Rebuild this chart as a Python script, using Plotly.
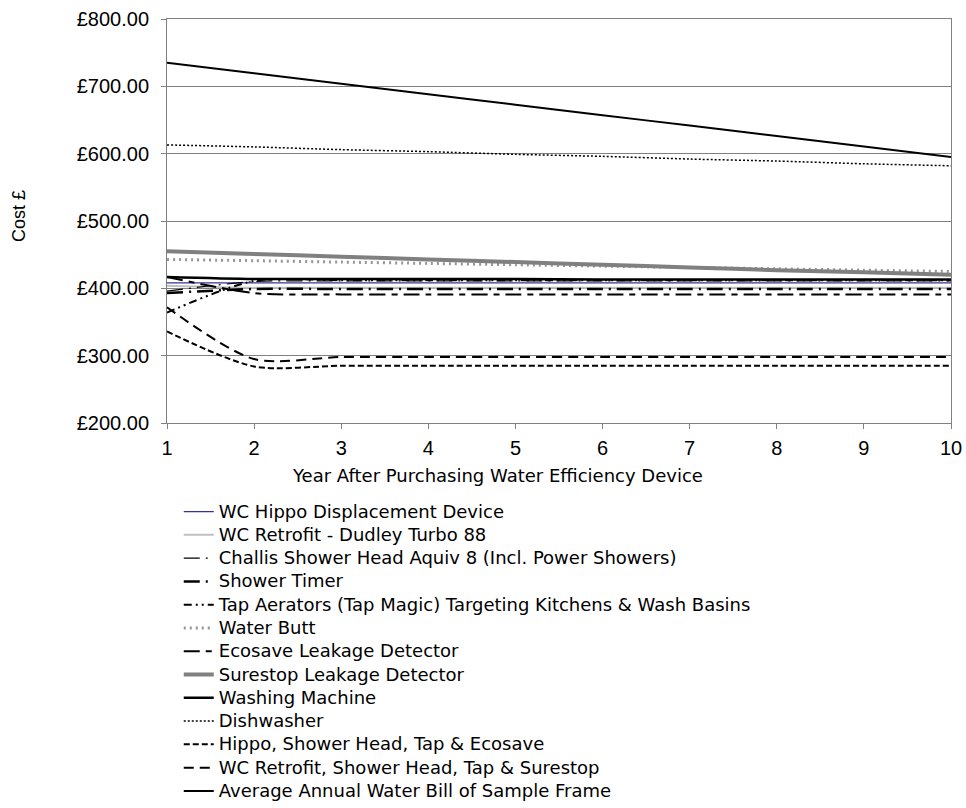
import plotly.graph_objects as go

# Years after purchase
years = [1, 2, 3, 4, 5, 6, 7, 8, 9, 10]

# Annual cost (£) per device / scenario
wc_hippo = [408, 408, 408, 408, 408, 408, 408, 408, 408, 408]
wc_retrofit = [404, 401, 401, 401, 401, 401, 401, 401, 401, 401]
challis_shower = [396, 410, 411, 411, 411, 411, 411, 411, 411, 411]
shower_timer = [393, 399, 399, 399, 399, 399, 399, 399, 399, 399]
tap_aerators = [364, 411, 412, 412, 412, 412, 412, 412, 412, 412]
water_butt = [443, 441, 439, 437, 435, 433, 431, 429, 427, 425]
ecosave = [417, 393, 391, 391, 391, 391, 391, 391, 391, 391]
surestop = [455, 451, 447, 443, 439, 435, 431, 427, 424, 420]
washing_machine = [417, 414, 414, 414, 414, 413, 413, 413, 413, 413]
dishwasher = [613, 610, 606, 603, 599, 596, 592, 589, 585, 582]
combo_hippo = [336, 284, 285, 285, 285, 285, 285, 285, 285, 285]
combo_wc = [372, 295, 298, 298, 298, 298, 298, 298, 298, 298]
avg_bill = [735, 719.4, 703.9, 688.3, 672.8, 657.2, 641.7, 626.1, 610.6, 595]

y_ticks = [200, 300, 400, 500, 600, 700, 800]
y_tick_text = ["£200.00", "£300.00", "£400.00", "£500.00", "£600.00", "£700.00", "£800.00"]

series = [
    ("WC Hippo Displacement Device", wc_hippo, "#333399", 1.2, "solid"),
    ("WC Retrofit - Dudley Turbo 88", wc_retrofit, "#C0C0C0", 2, "solid"),
    ("Challis Shower Head Aquiv 8 (Incl. Power Showers)", challis_shower, "black", 1.2, "16px,6px,2px,6px"),
    ("Shower Timer", shower_timer, "black", 2.5, "16px,6px,2px,6px"),
    ("Tap Aerators (Tap Magic) Targeting Kitchens & Wash Basins", tap_aerators, "black", 2, "8px,4px,2px,4px,2px,4px"),
    ("Water Butt", water_butt, "#969696", 3, "2px,4px"),
    ("Ecosave Leakage Detector", ecosave, "black", 2, "16px,6px,6px,6px"),
    ("Surestop Leakage Detector", surestop, "#808080", 4, "solid"),
    ("Washing Machine", washing_machine, "black", 2.5, "solid"),
    ("Dishwasher", dishwasher, "black", 1.5, "2px,2px"),
    ("Hippo, Shower Head, Tap & Ecosave", combo_hippo, "black", 2, "6px,3px"),
    ("WC Retrofit, Shower Head, Tap & Surestop", combo_wc, "black", 2, "10px,6px"),
    ("Average Annual Water Bill of Sample Frame", avg_bill, "black", 2, "solid"),
]

sans = "Liberation Sans, Arial, sans-serif"
wide = "DejaVu Sans, sans-serif"

fig = go.Figure()
for name, vals, color, width, dash in series:
    fig.add_trace(go.Scatter(
        x=years, y=vals, mode="lines",
        # legend text is set a little larger than the row spacing font for a compact list
        name=f'<span style="font-size:18px">{name}</span>',
        line=dict(color=color, width=width, dash=dash, shape="spline", smoothing=0.8),
    ))

fig.update_layout(
    width=966, height=808,
    margin=dict(l=167, r=15, t=19, b=385, autoexpand=False),
    paper_bgcolor="white", plot_bgcolor="white",
    font=dict(family=sans, size=17, color="black"),
    showlegend=True,
    legend=dict(
        x=0.015, y=-0.178, xanchor="left", yanchor="top",
        font=dict(size=15.6, family=wide),
        bgcolor="rgba(0,0,0,0)", itemwidth=30, tracegroupgap=0,
    ),
    xaxis=dict(
        range=[1, 10], tickmode="array", tickvals=years,
        showgrid=False, showline=True, linecolor="#808080", linewidth=1, mirror=True,
        ticks="outside", ticklen=5, tickcolor="#808080", ticklabelstandoff=2,
        tickfont=dict(size=20, family=sans), zeroline=False,
    ),
    yaxis=dict(
        range=[200, 800], tickmode="array", tickvals=y_ticks, ticktext=y_tick_text,
        showgrid=True, gridcolor="#808080", gridwidth=1,
        showline=True, linecolor="#808080", linewidth=1, mirror=True,
        ticks="outside", ticklen=5, tickcolor="#808080", ticklabelstandoff=8,
        tickfont=dict(size=20, family=sans), zeroline=False,
    ),
    annotations=[
        dict(text="Year After Purchasing Water Efficiency Device", xref="paper", yref="paper",
             x=0.422, y=-0.129, yanchor="middle", showarrow=False,
             font=dict(size=18, family=wide)),
        dict(text="Cost £", xref="paper", yref="paper", x=-0.189, y=0.512, textangle=-90,
             xanchor="center", yanchor="middle", showarrow=False,
             font=dict(size=18, family=sans)),
    ],
)

fig.write_html("out.html")
